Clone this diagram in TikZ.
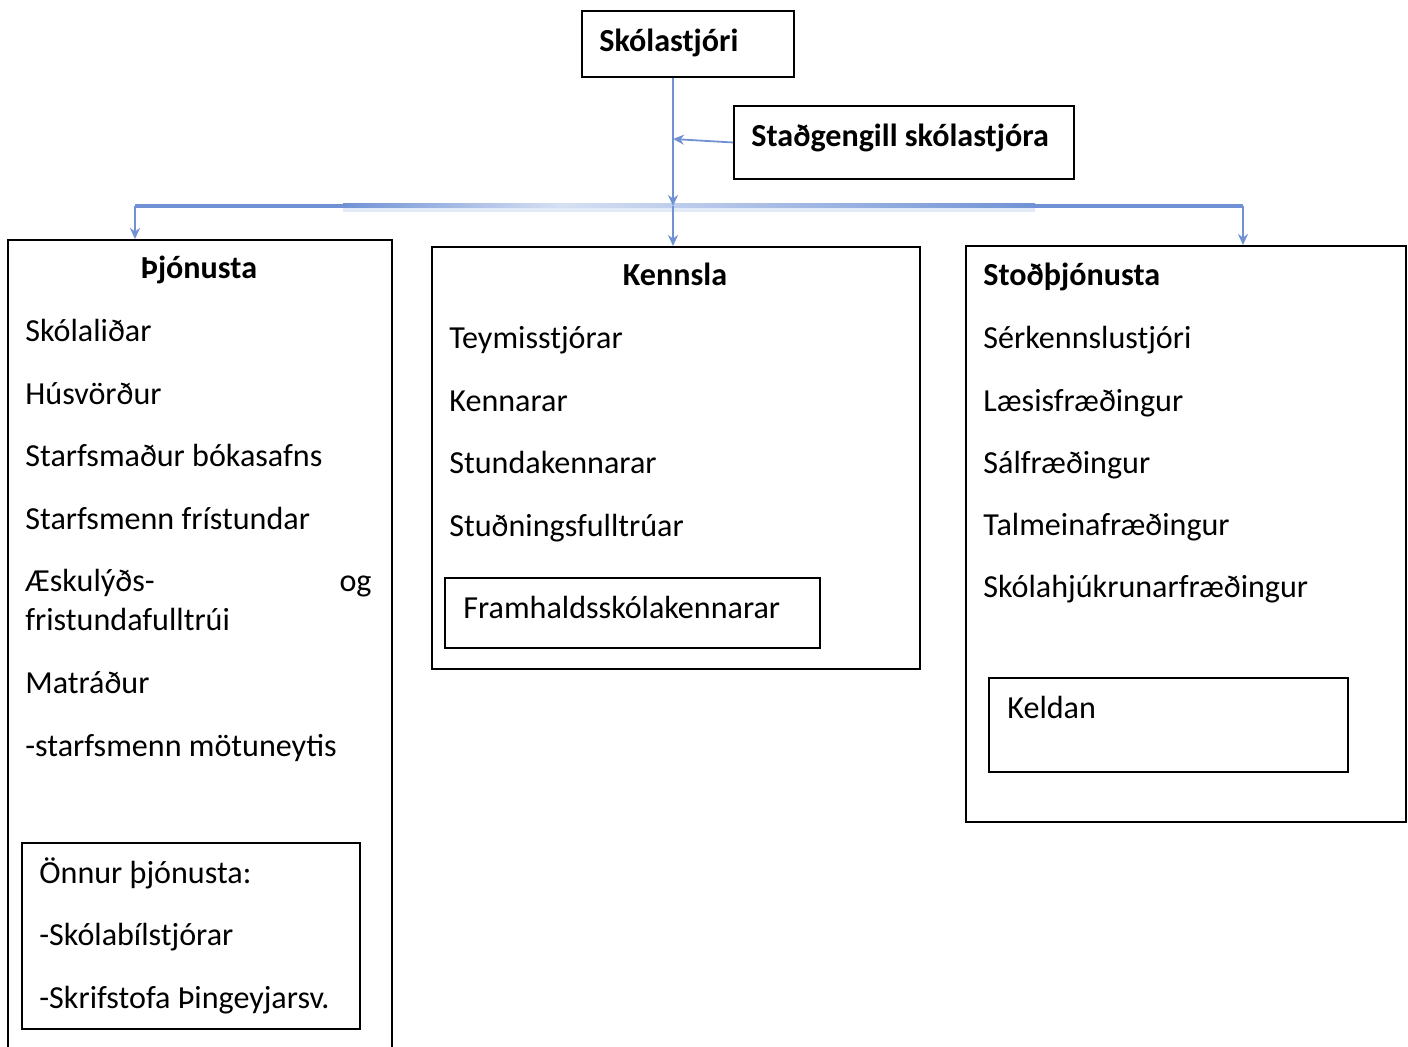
\documentclass[tikz,border=0pt]{standalone}
\usepackage{fontspec}
\setmainfont{Carlito}
\usetikzlibrary{arrows.meta}
\usetikzlibrary{positioning}

\definecolor{linkblue}{RGB}{112,146,212}
\definecolor{barlight}{RGB}{214,224,243}
\tikzset{
  box/.style={draw=black, line width=1pt, inner sep=0pt, anchor=north west},
  item/.style={anchor=base west, inner sep=0pt, font=\fontsize{16.05}{19}\selectfont},
  head/.style={item, font=\fontsize{16.05}{19}\selectfont\bfseries},
  conn/.style={draw=linkblue, line width=0.9pt, -{Stealth[length=5.5pt,width=5pt]}},
  bar/.style={draw=linkblue, line width=2pt}
}

\begin{document}
\begin{tikzpicture}[x=0.5pt, y=-0.5pt]
  \useasboundingbox (0,0) rectangle (1408,1047);
  % top
  \node[box, minimum width=106pt, minimum height=33pt] (skol) at (581,10) {};
  \node[head] (skoltxt) at (599,52) {Skólastjóri};
  \node[box, minimum width=170pt, minimum height=36.5pt] (stad) at (733,105) {};
  \node[head] (stadtxt) at (751,147) {Staðgengill skólastjóra};

  % three departments
  \node[box, minimum width=192pt, minimum height=412pt] (thjon) at (7,239) {};
  \node[head, anchor=base] (thjontxt) at (199,279) {Þjónusta};
  \foreach \t [count=\i] in {Skólaliðar, Húsvörður, Starfsmaður bókasafns, Starfsmenn frístundar}
    \node[item] (thj\i) at (25,{342+62.5*(\i-1)}) {\t};
  \node[item] (thj5) at (25,592) {Æskulýðs-};
  \node[item, anchor=base east] (thj5og) at (372,592) {og};
  \node[item] (thj5b) at (25,631) {fristundafulltrúi};
  \node[item] (thj6) at (25,693) {Matráður};
  \node[item] (thj7) at (25,756) {-starfsmenn mötuneytis};
  \node[box, minimum width=169pt, minimum height=93pt] (onnur) at (21,842) {};
  \foreach \t [count=\i] in {Önnur þjónusta:, -Skólabílstjórar, -Skrifstofa Þingeyjarsv.}
    \node[item] (onn\i) at (39,{883+62.5*(\i-1)}) {\t};

  \node[box, minimum width=244pt, minimum height=211pt] (kenn) at (431,246) {};
  \node[head, anchor=base] (kenntxt) at (675,286) {Kennsla};
  \foreach \t [count=\i] in {Teymisstjórar, Kennarar, Stundakennarar, Stuðningsfulltrúar}
    \node[item] (ken\i) at (449,{349+62.5*(\i-1)}) {\t};
  \node[box, minimum width=187.5pt, minimum height=35pt] (fram) at (444,577) {};
  \node[item] (framtxt) at (463,618) {Framhaldsskólakennarar};

  \node[box, minimum width=220pt, minimum height=288pt] (stod) at (965,245) {};
  \node[head] (stodtxt) at (983,286) {Stoðþjónusta};
  \foreach \t [count=\i] in {Sérkennslustjóri, Læsisfræðingur, Sálfræðingur, Talmeinafræðingur, Skólahjúkrunarfræðingur}
    \node[item] (sto\i) at (983,{349+62.2*(\i-1)}) {\t};
  \node[box, minimum width=179.5pt, minimum height=47pt] (keld) at (988,677) {};
  \node[item] (keldtxt) at (1007,718) {Keldan};

  % connectors
  \coordinate (lbar) at (135,206);
  \coordinate (bar) at (673,206);
  \coordinate (rbar) at (1243,206);
  \coordinate (join) at (673,139);
  \draw[bar] (lbar) -- (rbar);
  \shade[left color=linkblue, right color=barlight] (343,204) rectangle (560,208);
  \shade[left color=barlight, right color=linkblue] (560,204) rectangle (1035,208);
  \fill[barlight!70!white] (343,208) rectangle (1035,212);
  \draw[conn] (skol.south -| bar) -- (bar);
  \draw[conn] (bar) -- (bar |- kenn.north);
  \draw[conn] (stad.west) -- (join);
  \draw[conn] (lbar) -- (lbar |- thjon.north);
  \draw[conn] (rbar) -- (rbar |- stod.north);
\end{tikzpicture}
\end{document}
